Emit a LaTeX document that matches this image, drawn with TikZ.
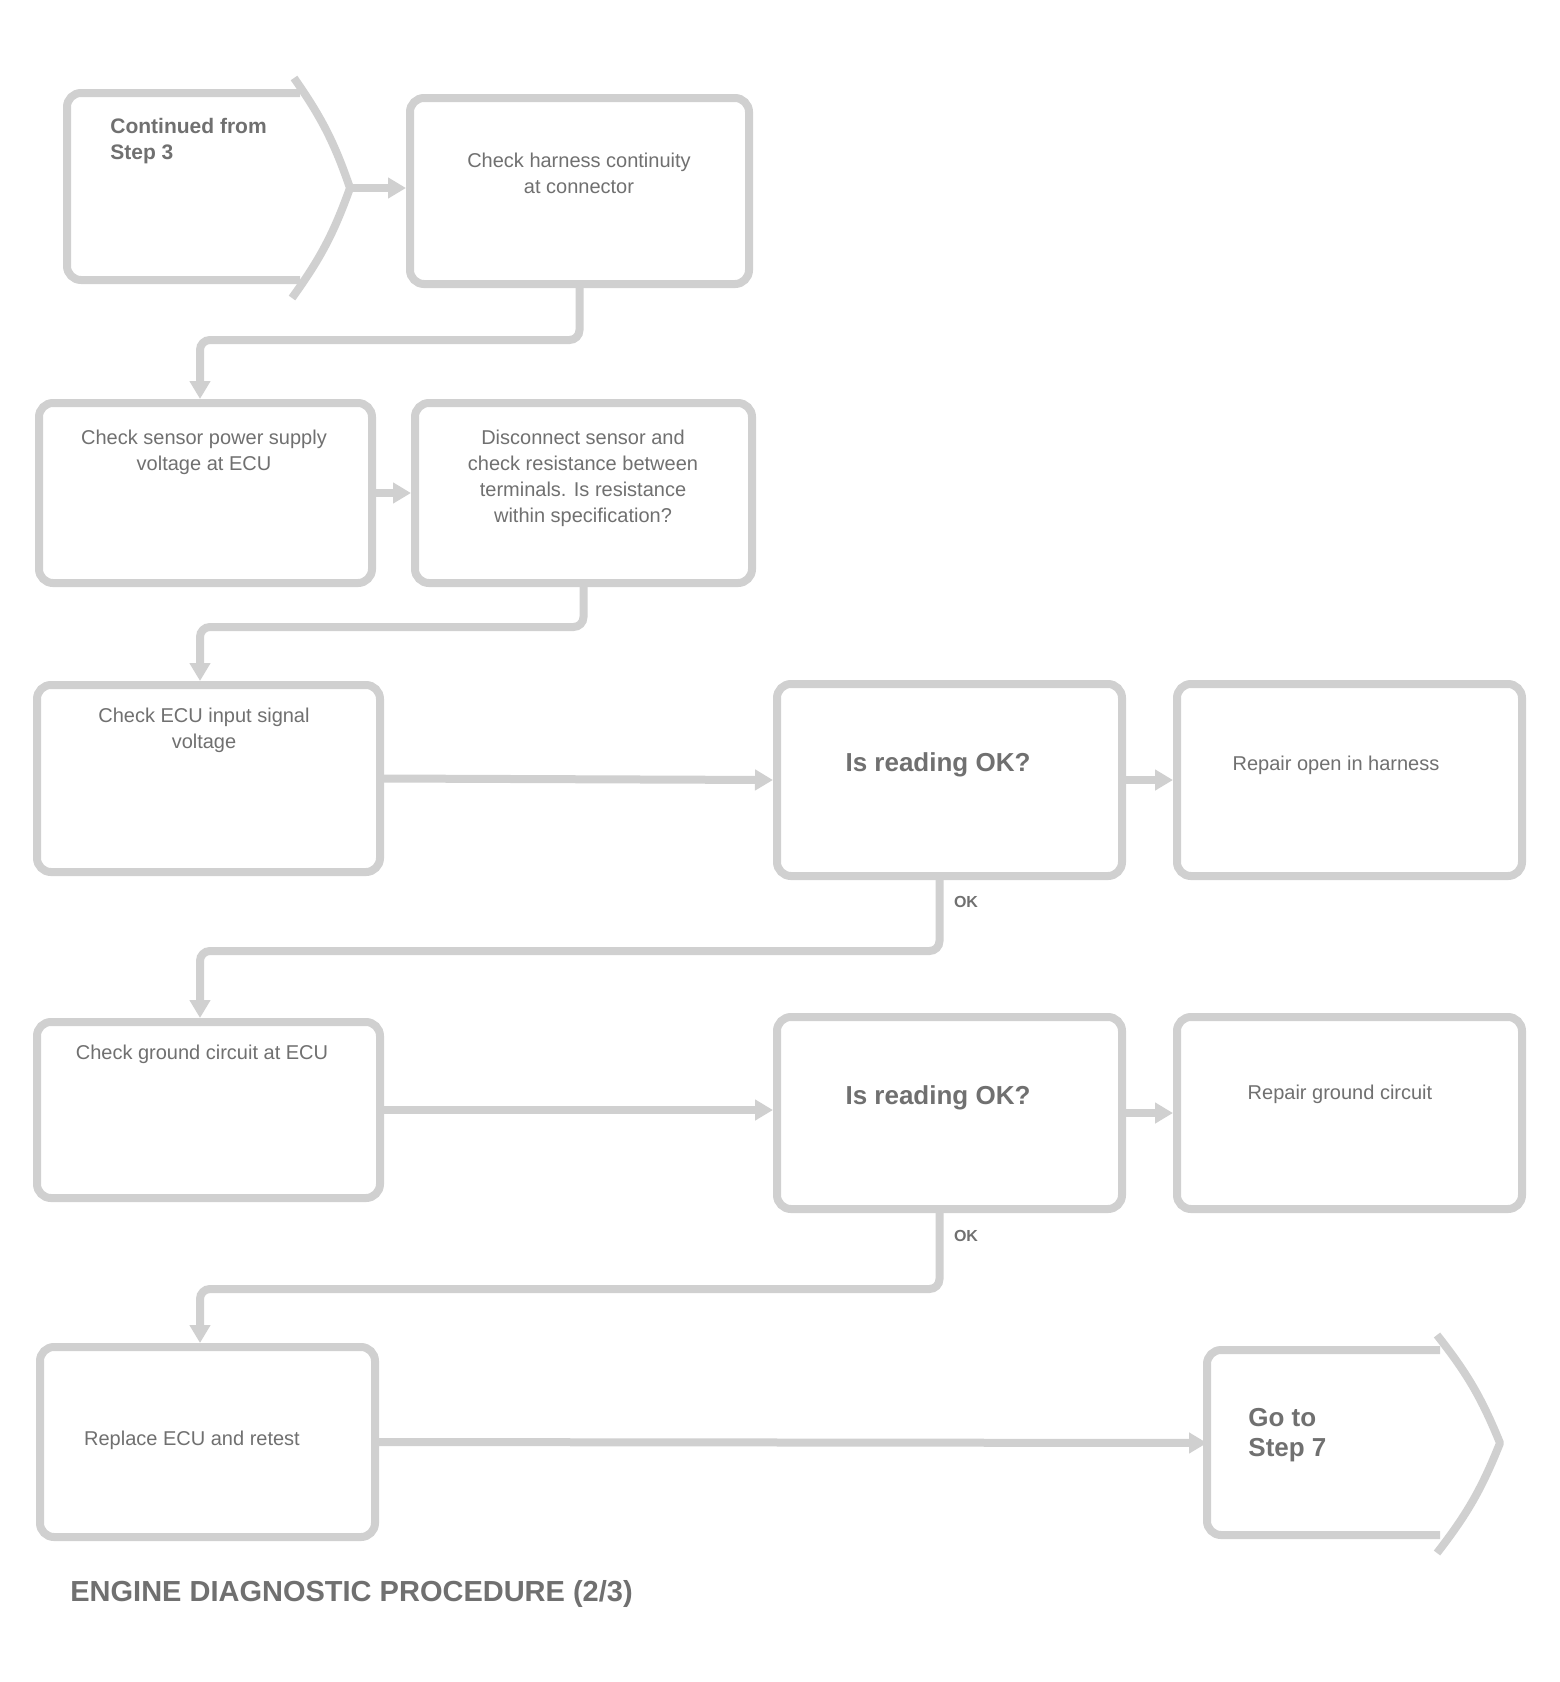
\documentclass[tikz,border=0pt]{standalone}
\usepackage{fontspec}
\setmainfont{Liberation Sans}
\usetikzlibrary{arrows.meta,calc}
\definecolor{linegray}{HTML}{D0D0D0}
\definecolor{textgray}{HTML}{707070}
\begin{document}
\begin{tikzpicture}[x=0.5pt,y=-0.5pt,
  outline/.style={draw=linegray, line width=4pt, line join=round},
  box/.style={draw=linegray, line width=4pt, rounded corners=7pt, inner sep=0pt},
  conn/.style={draw=linegray, line width=4pt, rounded corners=5pt, -{Triangle[length=9pt,width=10pt]}},
  txt/.style={text=textgray, font=\fontsize{10}{13}\selectfont, align=center, inner sep=0pt},
  bigtxt/.style={text=textgray, font=\fontsize{13}{15}\selectfont\bfseries, align=center, inner sep=0pt},
  lbl/.style={text=textgray, font=\fontsize{8}{10}\selectfont\bfseries, inner sep=0pt},
  captiontxt/.style={text=textgray, font=\fontsize{14.5}{16}\selectfont\bfseries, anchor=west, inner sep=0pt}]
\fill[white] (0,0) rectangle (1559,1682);
\useasboundingbox (0,0) rectangle (1559,1682);

% ---- Row 1 ----
\draw[outline, rounded corners=7pt] (300,93) -- (67,93) -- (67,280) -- (300,280);
\draw[outline] (294,78) to[bend left=8] (350,188) to[bend left=8] (292,298);
\coordinate (Atip) at (350,188);
\node[txt, anchor=north west, align=left, font=\fontsize{10.5}{13}\selectfont\bfseries] (Atxt) at (110,118) {Continued from\\Step 3};

\node[box, minimum width=169.5pt, minimum height=93pt] (B) at (579.5,191) {};
\node[txt] (Btxt) at (579,173) {Check harness continuity\\at connector};

% ---- Row 2 ----
\node[box, minimum width=166.5pt, minimum height=90pt] (C) at (205.5,493) {};
\node[txt] (Ctxt) at (204,452) {Check sensor power supply\\voltage at ECU};
\node[box, minimum width=168.5pt, minimum height=90pt] (D) at (583.5,493) {};
\node[txt] (Dtxt) at (583,478) {Disconnect sensor and\\check resistance between\\terminals. Is resistance\\within specification?};

% ---- Row 3 ----
\node[box, minimum width=171.5pt, minimum height=93.5pt] (E) at (208.5,778.5) {};
\node[txt] (Etxt) at (204,730) {Check ECU input signal\\voltage};
\node[box, minimum width=172.5pt, minimum height=96pt] (F) at (949.5,780) {};
\node[bigtxt] (Ftxt) at (938,765) {Is reading OK?};
\node[box, minimum width=172.5pt, minimum height=96pt] (G) at (1349.5,780) {};
\node[txt] (Gtxt) at (1336,765) {Repair open in harness};

% ---- Row 4 ----
\node[box, minimum width=171.5pt, minimum height=88pt] (H) at (208.5,1110) {};
\node[txt] (Htxt) at (202,1054) {Check ground circuit at ECU};
\node[box, minimum width=172.5pt, minimum height=96pt] (I) at (949.5,1113) {};
\node[bigtxt] (Itxt) at (938,1098) {Is reading OK?};
\node[box, minimum width=172.5pt, minimum height=96pt] (J) at (1349.5,1113) {};
\node[txt] (Jtxt) at (1340,1094) {Repair ground circuit};

% ---- Row 5 ----
\node[box, minimum width=167.5pt, minimum height=95pt] (K) at (207.5,1442) {};
\node[txt] (Ktxt) at (192,1440) {Replace ECU and retest};
\draw[outline, rounded corners=7pt] (1440,1350) -- (1207,1350) -- (1207,1535) -- (1440,1535);
\draw[outline] (1437,1335) to[bend left=8] (1500,1443) to[bend left=8] (1437,1553);
\coordinate (Lin) at (1207,1443);
\node[bigtxt, anchor=north west, align=left] (Ltxt) at (1248,1408) {Go to\\Step 7};

% ---- connectors ----
\draw[conn] (Atip) -- (Atip -| B.west);

\coordinate (t1) at (200,340);
\draw[conn] (B.south) |- (t1) -- (t1 |- C.north);

\draw[conn] (C.east) -- (D.west);

\coordinate (t2) at (200,627);
\draw[conn] (D.south) |- (t2) -- (t2 |- E.north);

\draw[conn] (E.east) -- (F.west);
\draw[conn] (F.east) -- (G.west);

\coordinate (t3) at (200,951);
\draw[conn] ($(F.south)+(-10,0)$) |- (t3) -- (t3 |- H.north);
\node[lbl] (ok1) at (966,902) {OK};

\draw[conn] (H.east) -- (H.east -| I.west);
\draw[conn] (I.east) -- (J.west);

\coordinate (t4) at (200,1289);
\draw[conn] ($(I.south)+(-10,0)$) |- (t4) -- (t4 |- K.north);
\node[lbl] (ok2) at (966,1236) {OK};

\draw[conn] (K.east) -- (Lin);

% ---- caption ----
\node[captiontxt] (caption) at (70,1594) {ENGINE DIAGNOSTIC PROCEDURE (2/3)};
\end{tikzpicture}
\end{document}
